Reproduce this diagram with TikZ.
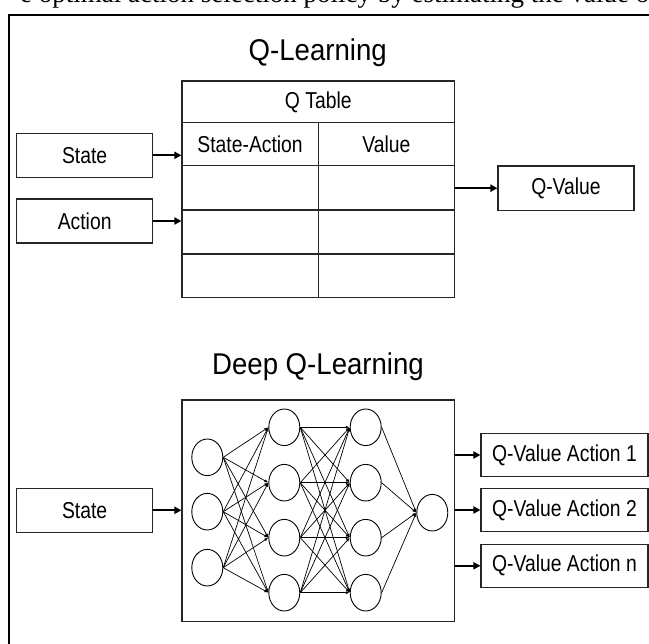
\documentclass[tikz,border=0pt]{standalone}
\usepackage{fontspec}
\setmainfont{Liberation Sans}
\newfontfamily\bodyfont{Liberation Sans}[FakeStretch=0.84]
\newfontfamily\titlefont{Liberation Sans}[FakeStretch=0.92]
\newfontfamily\seriffont{Liberation Serif}
\usetikzlibrary{arrows.meta,shapes.geometric}
\begin{document}
\begin{tikzpicture}[x=1pt,y=-1pt,
  box/.style={draw=black!85, line width=1.1pt, inner sep=0pt, minimum width=136pt, minimum height=44pt, font=\bodyfont\fontsize{23}{27}\selectfont},
  wbox/.style={box, minimum width=167pt, minimum height=43.4pt},
  cell/.style={draw=black!85, line width=1.1pt, inner sep=0pt, minimum width=136.25pt, font=\bodyfont\fontsize{23}{27}\selectfont},
  ttl/.style={font=\titlefont\fontsize{30}{34}\selectfont, anchor=base, inner sep=0pt},
  arr/.style={line width=1.8pt, -{Triangle[length=7pt,width=7pt]}},
  neuron/.style={draw=black, line width=0.9pt, ellipse, minimum width=31pt, minimum height=36.6pt, inner sep=0pt},
  link/.style={draw=black, line width=0.7pt, -{Latex[length=4pt,width=3pt]}},
  frame/.style={line width=2pt}
]
\useasboundingbox (0,0) rectangle (649,644);
\clip (0,0) rectangle (649,644);
% clipped caption line at the top (only its lowest part shows)
\node[anchor=base west, inner sep=0pt, font=\seriffont\fontsize{27}{30}\selectfont] (cap) at (20,3) {e optimal action selection policy by estimating the value o};
% outer frame
\coordinate (fr1) at (652,14.7);
\coordinate (fr2) at (9,14.7);
\coordinate (fr3) at (9,648);
\draw[frame] (fr1) -- (fr2) -- (fr3);

% ---------------- Q-Learning ----------------
\node[ttl] (t1) at (317.7,61) {Q-Learning};

\node[cell, minimum width=272.5pt, minimum height=41.7pt] (qh) at (318.25,101.85) {Q Table};
\node[cell, minimum height=43pt] (c11) at (250.1,144.2) {State-Action};
\node[cell, minimum height=43pt] (c12) at (386.4,144.2) {Value};
\node[cell, minimum height=44.3pt] (c21) at (250.1,187.85) {};
\node[cell, minimum height=44.3pt] (c22) at (386.4,187.85) {};
\node[cell, minimum height=44pt] (c31) at (250.1,232) {};
\node[cell, minimum height=44pt] (c32) at (386.4,232) {};
\node[cell, minimum height=43.3pt] (c41) at (250.1,275.65) {};
\node[cell, minimum height=43.3pt] (c42) at (386.4,275.65) {};

\node[box] (st1) at (84.65,155.3) {State};
\node[box] (ac1) at (84.65,221) {Action};
\node[box, minimum height=44.3pt] (qv) at (566,188.2) {Q-Value};

\draw[arr] (st1.east) -- (st1.east -| c11.west);
\draw[arr] (ac1.east) -- (ac1.east -| c31.west);
\draw[arr] (qv.west -| c22.east) -- (qv.west);

% ---------------- Deep Q-Learning ----------------
\node[ttl] (t2) at (318,375) {Deep Q-Learning};

\node[draw=black!85, line width=1.1pt, inner sep=0pt, minimum width=272.5pt, minimum height=221.7pt] (nn) at (318.25,510.85) {};

\node[neuron] (a1) at (207.3,457.3) {};
\node[neuron] (a2) at (207.3,511.7) {};
\node[neuron] (a3) at (207.3,567.7) {};
\node[neuron] (b1) at (284.3,427.3) {};
\node[neuron] (b2) at (284.3,482.7) {};
\node[neuron] (b3) at (284.3,537.7) {};
\node[neuron] (b4) at (284.3,592.7) {};
\node[neuron] (c1) at (365.7,427.3) {};
\node[neuron] (c2) at (365.7,482.7) {};
\node[neuron] (c3) at (365.7,537.7) {};
\node[neuron] (c4) at (365.7,592.7) {};
\node[neuron] (o1) at (432.3,512.7) {};

\foreach \i in {1,2,3}{\foreach \j in {1,2,3,4}{\draw[link] (a\i.east) -- (b\j.west);}}
\foreach \i in {1,2,3,4}{\foreach \j in {1,2,3,4}{\draw[link] (b\i.east) -- (c\j.west);}}
\foreach \i in {1,2,3,4}{\draw[link] (c\i.east) -- (o1.west);}

\node[box] (st2) at (84.65,510.3) {State};
\node[wbox] (q1) at (564.5,455) {Q-Value Action 1};
\node[wbox] (q2) at (564.5,510) {Q-Value Action 2};
\node[wbox] (q3) at (564.5,565.8) {Q-Value Action n};

\draw[arr] (st2.east) -- (st2.east -| nn.west);
\draw[arr] (q1.west -| nn.east) -- (q1.west);
\draw[arr] (q2.west -| nn.east) -- (q2.west);
\draw[arr] (q3.west -| nn.east) -- (q3.west);
\end{tikzpicture}
\end{document}
